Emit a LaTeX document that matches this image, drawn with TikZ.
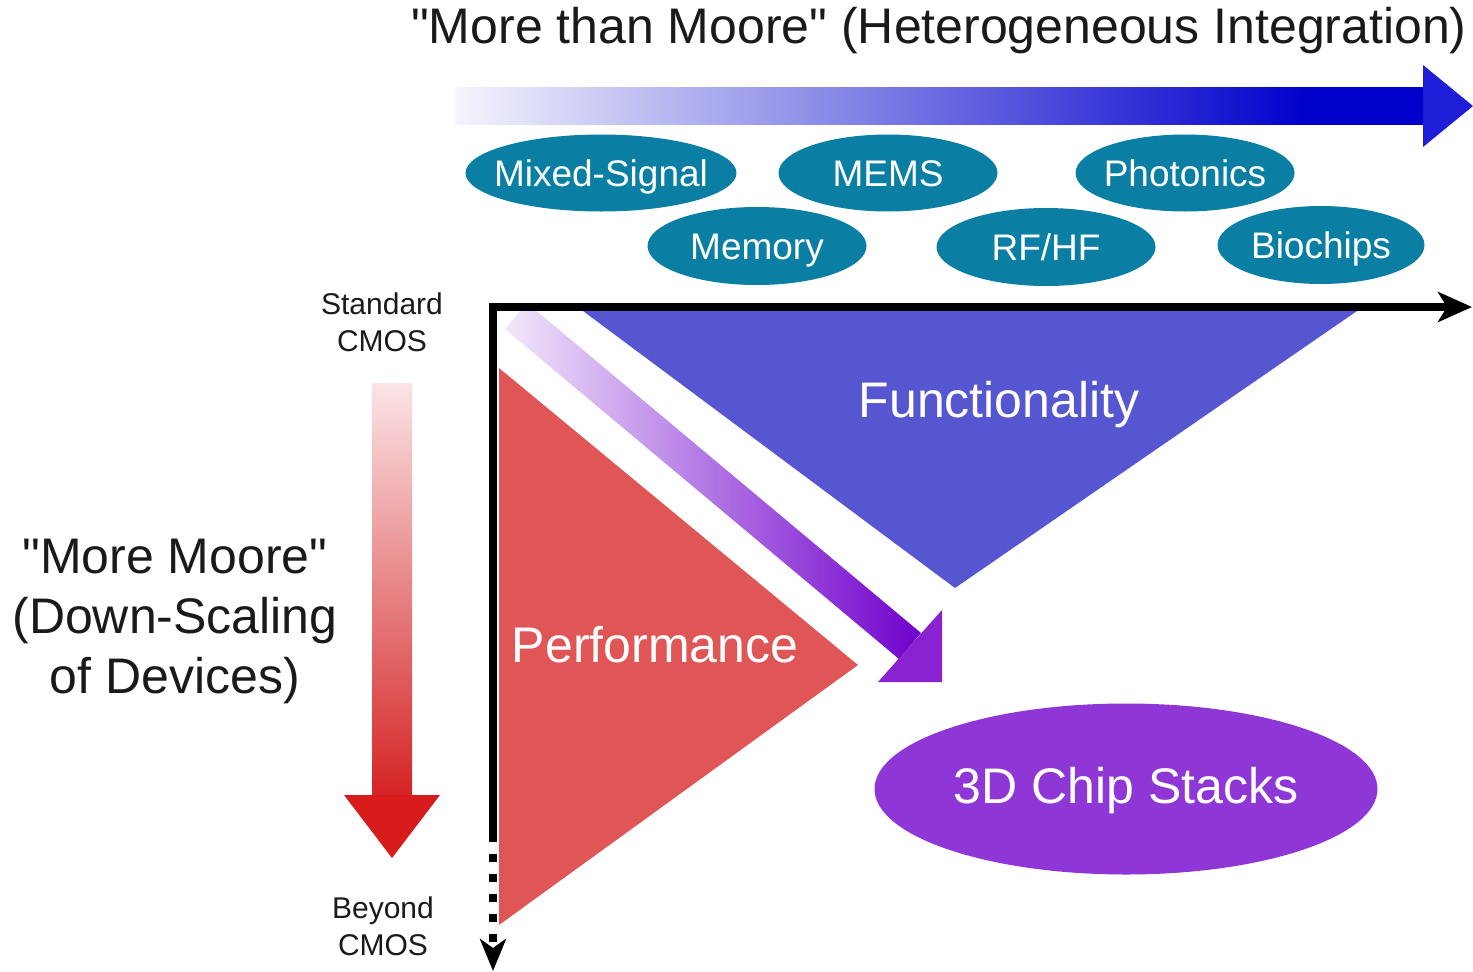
\documentclass[tikz,border=0pt]{standalone}
\usepackage{fontspec}
\setmainfont{Liberation Sans}[Ligatures=TeXOff]
\usetikzlibrary{arrows.meta,shapes.geometric}
\definecolor{tealE}{HTML}{0A7FA3}
\definecolor{blueT}{HTML}{5656D0}
\definecolor{redT}{HTML}{E05656}
\definecolor{purpE}{HTML}{8F36D6}
\definecolor{blueD}{HTML}{0000CC}
\definecolor{blueH}{HTML}{1E1ED8}
\definecolor{purpD}{HTML}{7000CC}
\definecolor{purpL}{HTML}{F2E8FB}
\definecolor{purpH}{HTML}{8A22D2}
\definecolor{redD}{HTML}{D42222}
\definecolor{redH}{HTML}{D81B1B}
\definecolor{redL}{HTML}{FBE4E6}
\definecolor{txt}{HTML}{1A1A1A}
\pgfdeclarehorizontalshading{bluefade}{100bp}{color(0bp)=(white); color(25bp)=(white!96!blueD); color(69bp)=(blueD); color(100bp)=(blueD)}
\tikzset{
  tech/.style={ellipse, fill=tealE, inner sep=0pt},
  techtext/.style={text=white, inner sep=0pt,
    font=\fontsize{37}{44}\selectfont, text height=26.5pt, text depth=0pt},
  bigwhite/.style={text=white, font=\fontsize{50}{58}\selectfont, text height=35.8pt, text depth=0pt, inner sep=0pt},
  small/.style={text=txt, align=center, font=\fontsize{30}{37}\selectfont},
  axis/.style={line width=8pt, black},
}
\begin{document}
\begin{tikzpicture}[x=1pt,y=-1pt]
\useasboundingbox (0,0) rectangle (1473,972);
% title
\node[text=txt, font=\fontsize{50}{56}\selectfont] (title) at (939,31) {"More than Moore" (Heterogeneous Integration)};
% gradient arrow top
\shade[shading=bluefade] (455,87) rectangle (1424,124);
\fill[blueH] (1423,65) -- (1473,106) -- (1423,147) -- cycle;
% teal ellipses
\node[tech, minimum width=271pt, minimum height=77pt] (mixed) at (601,173) {};
\node[techtext] at (mixed.center) {Mixed-Signal};
\node[tech, minimum width=219pt, minimum height=77pt] (mems) at (888,173) {};
\node[techtext] at (mems.center) {MEMS};
\node[tech, minimum width=219pt, minimum height=77pt] (photo) at (1185,173) {};
\node[techtext] at (photo.center) {Photonics};
\node[tech, minimum width=219pt, minimum height=78pt] (memory) at (757,246) {};
\node[techtext] at (memory.center) {Memory};
\node[tech, minimum width=219pt, minimum height=78pt] (rfhf) at (1046,247) {};
\node[techtext] at (rfhf.center) {RF/HF};
\node[tech, minimum width=207pt, minimum height=78pt] (bio) at (1321,245) {};
\node[techtext] at (bio.center) {Biochips};
% blue triangle
\fill[blueT] (583,311) -- (1357,311) -- (955,588) -- cycle;
\node[bigwhite] (func) at (999,400) {Functionality};
% red triangle
\fill[redT] (499,368) -- (858,665) -- (499,925) -- cycle;
\node[bigwhite] (perf) at (655,645) {Performance};
% purple diagonal arrow
\shade[left color=purpL, right color=purpD] (527,303) -- (505,329) -- (899,659) -- (921,633) -- cycle;
\fill[purpH] (942,610) -- (942,682) -- (878,682) -- cycle;
% 3D chip stacks
\node[ellipse, fill=purpE, minimum width=503pt, minimum height=171pt, inner sep=0pt] (chip) at (1126,789) {};
\node[bigwhite] (chiptext) at ([yshift=3pt]chip.center) {3D Chip Stacks};
% axes
\coordinate (O) at (493,307);
\coordinate (xend) at (1472,307);
\coordinate (ysolid) at (493,834);
\coordinate (yend) at (493,971);
\draw[axis, line join=miter, -{Stealth[length=34pt,width=30pt,inset=9pt]}] (ysolid) -- (O) -- (xend);
\draw[axis, dash pattern=on 8pt off 12pt, -{Stealth[length=32pt,width=26pt,inset=9pt]}] (ysolid) -- (yend);
% red vertical arrow
\shade[top color=redL, bottom color=redD] (372,383) rectangle (412,800);
\fill[redH] (344,795) -- (440,795) -- (392,858) -- cycle;
% labels
\node[small] (std) at (382,322) {Standard\\CMOS};
\node[small] (bey) at (383,926) {Beyond\\CMOS};
\node[text=txt, align=center, font=\fontsize{50}{60}\selectfont] (moore) at (175,621) {"More Moore"\\(Down-Scaling\\of Devices)};
\end{tikzpicture}
\end{document}
